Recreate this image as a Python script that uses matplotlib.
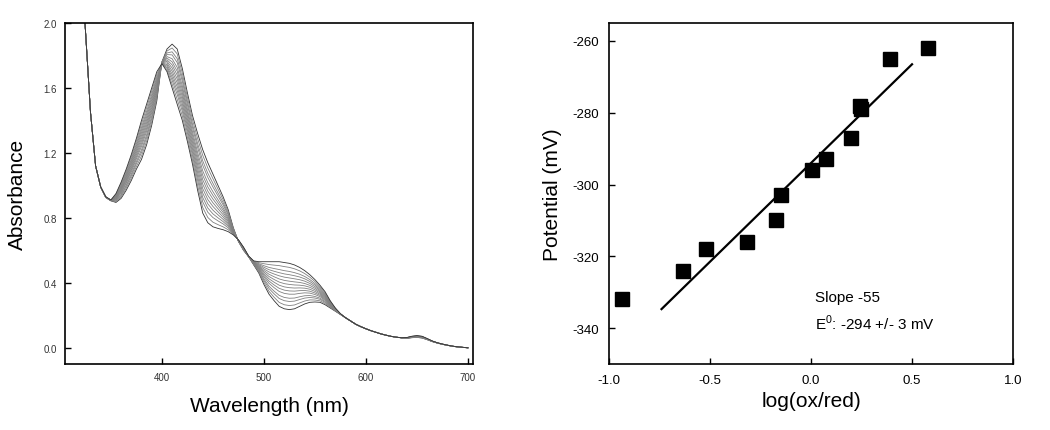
import numpy as np
import matplotlib
matplotlib.use("Agg")
import matplotlib.pyplot as plt

plt.rcParams['font.family'] = ['Liberation Sans', 'DejaVu Sans']
plt.rcParams['mathtext.fontset'] = 'custom'
plt.rcParams['mathtext.rm'] = 'Liberation Sans'

# ---- spectra (left panel) ----
# end spectra, every 5 nm
wl = [320, 325, 330, 335, 340, 345, 350, 355, 360, 365, 370, 375, 380, 385, 390, 395,
      400, 405, 410, 415, 420, 425, 430, 435, 440, 445, 450, 455, 460, 465, 470, 475,
      480, 485, 490, 495, 500, 505, 510, 515, 520, 525, 530, 535, 540, 545, 550, 555,
      560, 565, 570, 575, 580, 585, 590, 595, 600, 605, 610, 615, 620, 625, 630, 635,
      640, 645, 650, 655, 660, 665, 670, 675, 680, 685, 690, 695, 700]

# spectrum with Soret at ~398 nm and broad 500-560 band
spec_a = [2.45, 1.96, 1.45, 1.12, 0.99, 0.93, 0.91, 0.95, 1.02, 1.10, 1.19, 1.29,
          1.40, 1.50, 1.60, 1.70, 1.75, 1.70, 1.60, 1.50, 1.40, 1.27, 1.13, 0.97,
          0.83, 0.77, 0.745, 0.735, 0.727, 0.715, 0.695, 0.665, 0.62, 0.565, 0.535, 0.53,
          0.53, 0.53, 0.53, 0.53, 0.525, 0.52, 0.51, 0.495, 0.475, 0.45, 0.42, 0.385,
          0.345, 0.29, 0.245, 0.21, 0.185, 0.165, 0.145, 0.13, 0.117, 0.105, 0.095,
          0.085, 0.077, 0.07, 0.065, 0.062, 0.063, 0.071, 0.075, 0.071, 0.057, 0.042,
          0.031, 0.023, 0.016, 0.010, 0.006, 0.003, 0.0]

# spectrum with Soret at ~410 nm and bands at 525 / 552 nm
spec_b = [2.45, 1.96, 1.45, 1.12, 0.99, 0.925, 0.905, 0.895, 0.92, 0.97, 1.03, 1.10,
          1.16, 1.25, 1.37, 1.52, 1.76, 1.84, 1.87, 1.84, 1.72, 1.57, 1.43, 1.32,
          1.22, 1.14, 1.07, 1.00, 0.93, 0.85, 0.74, 0.655, 0.60, 0.56, 0.51, 0.46,
          0.39, 0.33, 0.29, 0.255, 0.24, 0.235, 0.24, 0.255, 0.27, 0.28, 0.282, 0.28,
          0.265, 0.245, 0.225, 0.205, 0.185, 0.165, 0.145, 0.13, 0.117, 0.105, 0.095,
          0.085, 0.077, 0.07, 0.065, 0.061, 0.058, 0.062, 0.064, 0.060, 0.050, 0.038,
          0.029, 0.021, 0.015, 0.009, 0.005, 0.002, 0.0]

# absorbance at 525 nm of each recorded spectrum (sets mixing of the two species)
a525 = [0.235, 0.26, 0.285, 0.305, 0.33, 0.35, 0.37, 0.39, 0.41, 0.43, 0.45,
        0.47, 0.495, 0.52]

# ---- Nernst plot (right panel) ----
log_ratio = [-0.934, -0.636, -0.522, -0.316, -0.174, -0.150, 0.003, 0.073, 0.197,
             0.240, 0.246, 0.392, 0.577]
potential = [-332, -324, -318, -316, -310, -303, -296, -293, -287, -278, -279, -265, -262]
fit_slope = 55.0
fit_intercept = -294.0
fit_range = [-0.74, 0.50]

fig = plt.figure(figsize=(10.5, 4.31), dpi=100)

# left: spectra
ax1 = fig.add_axes([0.0619, 0.1531, 0.3886, 0.7912])
wl = np.array(wl)
sa, sb = np.array(spec_a), np.array(spec_b)
i_a = wl.tolist().index(525)
for k, v in enumerate(a525):
    f = (v - sb[i_a]) / (sa[i_a] - sb[i_a])
    col = '0.2' if k in (0, len(a525) - 1) else '0.5'
    ax1.plot(wl, sb + f * (sa - sb), color=col, lw=0.6)

ax1.set_xlim(305, 705)
ax1.set_ylim(-0.1, 2.0)
ax1.set_xticks([400, 500, 600, 700])
ax1.set_yticks([0.0, 0.4, 0.8, 1.2, 1.6, 2.0])
ax1.set_yticklabels(['0.0', '0.4', '0.8', '1.2', '1.6', '2.0'])
ax1.tick_params(direction='in', length=4, width=1, labelsize=7, labelcolor='#333333', pad=6)
ax1.set_xlabel('Wavelength (nm)', fontsize=15, labelpad=10)
ax1.set_ylabel('Absorbance', fontsize=15, labelpad=12)
for s in ax1.spines.values():
    s.set_linewidth(1.2)

# right: Nernst plot
ax2 = fig.add_axes([0.58, 0.1531, 0.3848, 0.7912])
ax2.plot(log_ratio, potential, 's', color='black', markersize=9.5)
xf = np.array(fit_range)
ax2.plot(xf, fit_intercept + fit_slope * xf, color='black', lw=1.6)
ax2.set_xlim(-1.0, 1.0)
ax2.set_ylim(-350, -255)
ax2.set_xticks([-1.0, -0.5, 0.0, 0.5, 1.0])
ax2.set_xticklabels(['-1.0', '-0.5', '0.0', '0.5', '1.0'])
ax2.set_yticks([-340, -320, -300, -280, -260])
ax2.set_yticklabels(['-340', '-320', '-300', '-280', '-260'])
ax2.tick_params(direction='in', length=4, width=1, labelsize=9.5, pad=7)
ax2.set_xlabel('log(ox/red)', fontsize=15, labelpad=4)
ax2.set_ylabel('Potential (mV)', fontsize=15, labelpad=8)
for s in ax2.spines.values():
    s.set_linewidth(1.2)

ax2.text(0.02, -331.3, 'Slope -55', fontsize=11, va='center', ha='left')
ax2.text(0.02, -338.3, r'E$^{\mathregular{0}}$: -294 +/- 3 mV', fontsize=11,
         va='center', ha='left')

fig.savefig('out.png', dpi=100)
